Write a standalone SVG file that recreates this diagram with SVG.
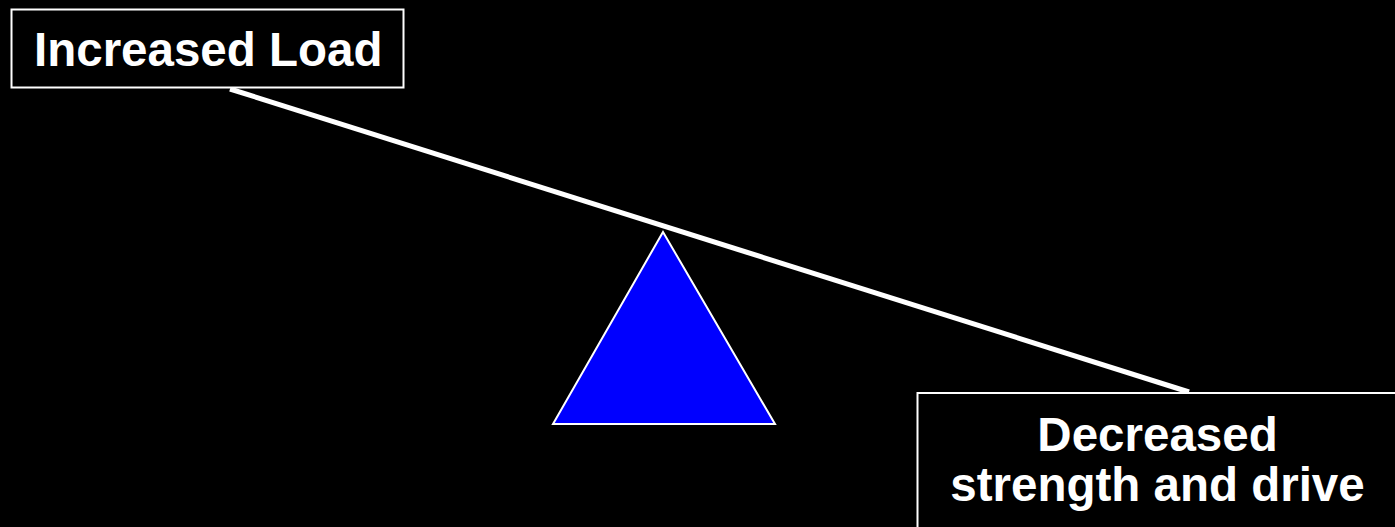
<svg xmlns="http://www.w3.org/2000/svg" width="1395" height="527" viewBox="0 0 1395 527">
<style>
.box{fill:#000;stroke:#fff;stroke-width:2}
.lbl{font-family:"Liberation Sans",Arial,sans-serif;font-weight:bold;font-size:47.5px;fill:#fff}
</style>
<rect width="1395" height="527" fill="#000"/>
<g id="connectors">
<line x1="230" y1="89" x2="1189" y2="392" stroke="#fff" stroke-width="5"/>
</g>
<g id="fulcrum">
<polygon points="663,232 553,424 775,424" fill="#0000ff" stroke="#fff" stroke-width="2"/>
</g>
<g id="increased-load">
<rect class="box" x="11.5" y="9.5" width="392" height="78"/>
<text class="lbl" x="34" y="66">Increased Load</text>
</g>
<g id="decreased-strength">
<rect class="box" x="917.5" y="393" width="490" height="150"/>
<text class="lbl" x="1157.5" y="451" text-anchor="middle">Decreased</text>
<text class="lbl" x="1157.5" y="501" text-anchor="middle">strength and drive</text>
</g>
</svg>
